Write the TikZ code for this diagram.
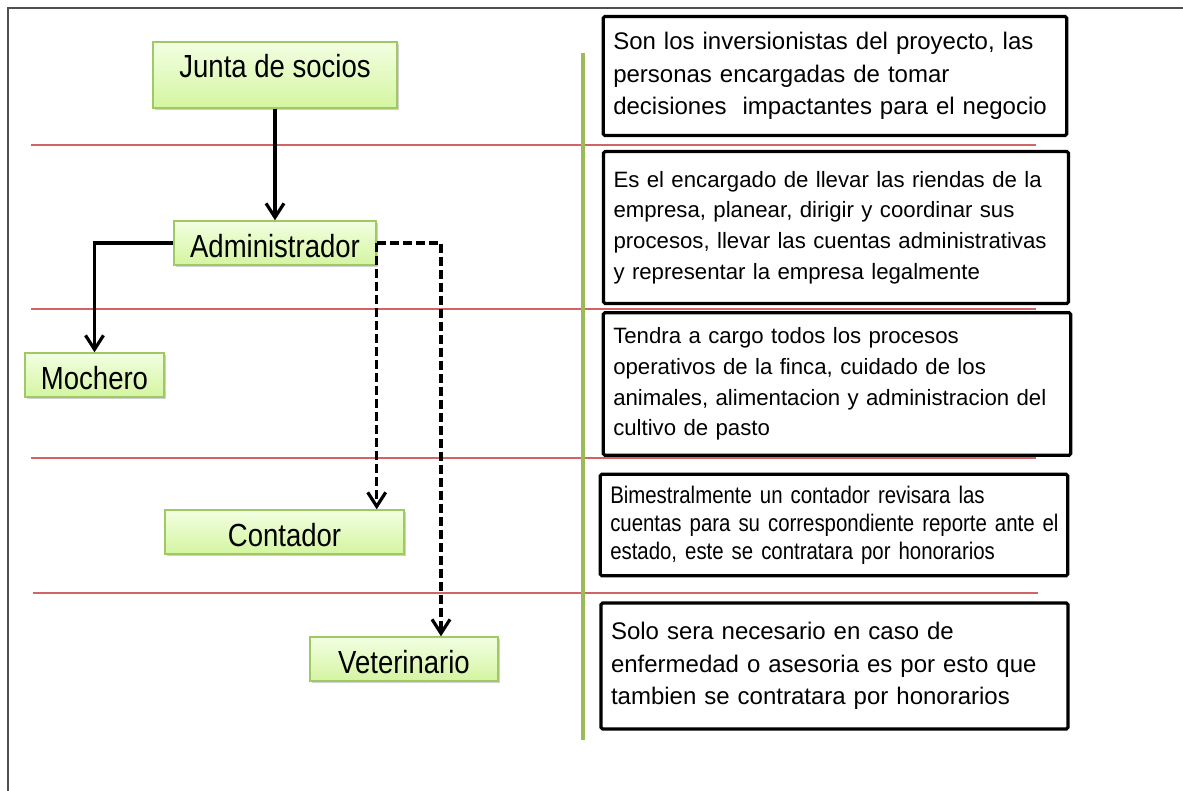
\documentclass[tikz,border=0pt]{standalone}
\usepackage{fontspec}
\setmainfont{Liberation Sans}
\newfontfamily\rolefont[FakeStretch=0.86]{Liberation Sans}
\newfontfamily\narrowfont[FakeStretch=0.85,WordSpace=0.75]{Liberation Sans}
\usepackage{xcolor}
\usepackage{tikz}
\usetikzlibrary{arrows.meta,shadows}
\definecolor{rolelight}{RGB}{242,255,226}
\definecolor{roledark}{RGB}{212,245,160}
\definecolor{rolestroke}{RGB}{160,200,100}
\definecolor{levelline}{RGB}{212,100,100}
\definecolor{spine}{RGB}{155,187,89}
\definecolor{pageframe}{RGB}{80,80,80}

\begin{document}
\begin{tikzpicture}[x=0.5pt, y=-0.5pt,
  role/.style={draw=rolestroke, line width=0.7pt,
    top color=rolelight, bottom color=roledark,
    drop shadow={shadow xshift=1.2pt, shadow yshift=-1.2pt, fill=black!45, opacity=0.4},
    font=\rolefont\fontsize{16}{18}\selectfont, inner xsep=0pt, inner ysep=0pt,
    text height=18pt, text depth=4pt},
  note/.style={draw, line width=1.6pt, rounded corners=0.8pt, align=left,
    inner xsep=5pt, inner ysep=0pt},
  link/.style={line width=1.6pt, -{Straight Barb[length=7pt,width=9pt]}},
  hire/.style={link, dash pattern=on 4.5pt off 2pt}]
% Organigrama de la finca: cargos a la izquierda, funciones a la derecha.
% Unidades en pixeles del original (x = 0.5pt, y hacia abajo).
% Las lineas rojas separan los niveles; la verde separa las dos columnas.
\useasboundingbox (0,0) rectangle (1183,791);
\foreach \y/\xa/\xb in {145/31/1036, 309/31/1036, 458/31/1036, 593/33/1038}
  \draw[levelline, line width=0.6pt] (\xa,\y) -- (\xb,\y);
\draw[spine, line width=1.7pt] (583,53) -- (583,740);
\draw[pageframe, line width=0.8pt] (8,791) -- (8,8) -- (1183,8);
% Cargos
\node[role, text depth=15pt, minimum width=122pt] (junta) at (275,75) {Junta de socios};
\node[role, minimum width=101pt] (admin) at (275,243) {Administrador};
\node[role, minimum width=69.5pt] (mochero) at (94.5,375) {Mochero};
\node[role, minimum width=119.5pt] (contador) at (284.5,532) {Contador};
\node[role, minimum width=94pt] (vet) at (404,659) {Veterinario};
% Funciones
\node[note, minimum width=231.75pt, minimum height=59.5pt, text width=221.75pt,
  font=\fontsize{12}{16.25}\selectfont] (junta note) at (835,76)
  {Son los inversionistas del proyecto, las\\
   personas encargadas de tomar\\
   decisiones~ impactantes para el negocio};
\node[note, minimum width=232.5pt, minimum height=76pt, text width=222.5pt,
  font=\fontsize{11.1}{15.35}\selectfont] (admin note) at (836,227.5)
  {Es el encargado de llevar las riendas de la\\
   empresa, planear, dirigir y coordinar sus\\
   procesos, llevar las cuentas administrativas\\
   y representar la empresa legalmente};
\node[note, minimum width=233.75pt, minimum height=71.25pt, text width=223.75pt,
  font=\fontsize{11.1}{15.35}\selectfont] (mochero note) at (837,384)
  {Tendra a cargo todos los procesos\\
   operativos de la finca, cuidado de los\\
   animales, alimentacion y administracion del\\
   cultivo de pasto};
\node[note, minimum width=233.75pt, minimum height=50.75pt, text width=223.75pt,
  font=\narrowfont\fontsize{12}{14}\selectfont] (contador note) at (834,525)
  {Bimestralmente un contador revisara las\\
   \mbox{cuentas para su correspondiente reporte ante el}\\
   estado, este se contratara por honorarios};
\node[note, minimum width=233.5pt, minimum height=63pt, text width=223.5pt,
  font=\fontsize{12}{16.25}\selectfont] (vet note) at (834.5,666)
  {Solo sera necesario en caso de\\
   enfermedad o asesoria es por esto que\\
   tambien se contratara por honorarios};
% Conectores
\coordinate (split) at (441,243);
\draw[link] (junta) -- (admin);
\draw[link] (admin.west) -| (mochero.north);
\draw[hire] (admin.east) -- (admin.east |- contador.north);
\draw[hire] (admin.east) -- (split) -- (split |- vet.north);
\end{tikzpicture}
\end{document}
